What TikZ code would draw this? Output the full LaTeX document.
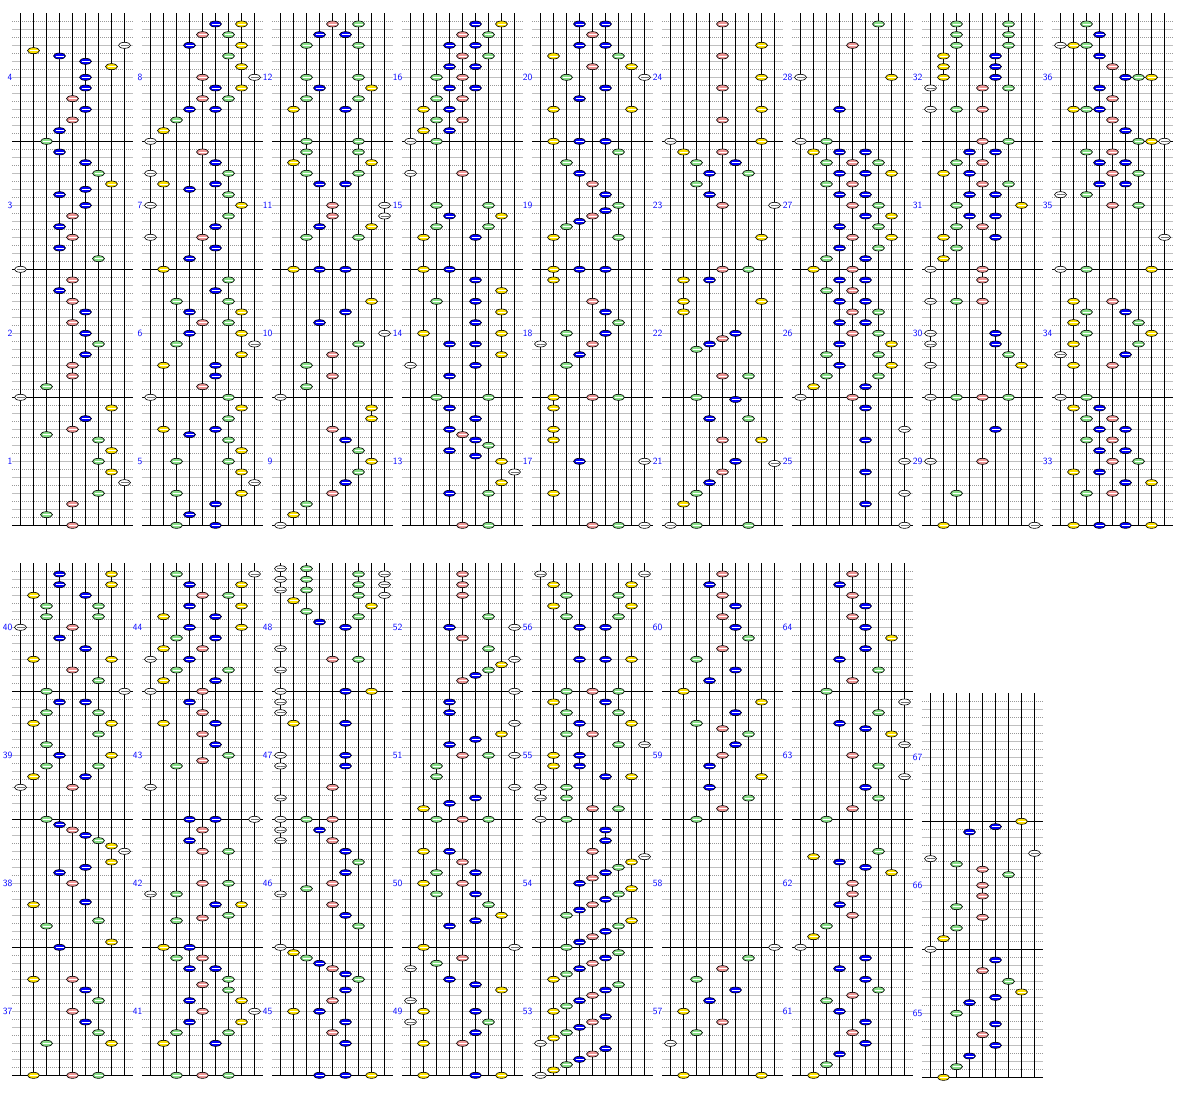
\documentclass[tikz,border=0pt]{standalone}
\usepackage{tikz}

\definecolor{keyw}{RGB}{255,255,255}
\definecolor{keyy}{RGB}{255,228,0}
\definecolor{keyg}{RGB}{136,224,136}
\definecolor{keyb}{RGB}{0,0,255}
\definecolor{keyr}{RGB}{240,150,150}
\definecolor{numblue}{RGB}{0,0,255}
\colorlet{lane0}{keyw}\colorlet{lane1}{keyy}\colorlet{lane2}{keyg}
\colorlet{lane3}{keyb}\colorlet{lane4}{keyr}\colorlet{lane5}{keyb}
\colorlet{lane6}{keyg}\colorlet{lane7}{keyy}\colorlet{lane8}{keyw}
\colorlet{shine0}{black!55}\colorlet{shine1}{white}\colorlet{shine2}{white}
\colorlet{shine3}{white}\colorlet{shine4}{white}\colorlet{shine5}{white}
\colorlet{shine6}{white}\colorlet{shine7}{white}\colorlet{shine8}{black!55}

\tikzset{
  beatline/.style={draw=black!25, line width=0.7pt},
  halfline/.style={draw=black!40, line width=0.7pt, dash pattern=on 1pt off 1pt},
  barline/.style={draw=black, line width=0.8pt},
  laneline/.style={draw=black, line width=0.8pt},
  notekey/.style={draw=black, line width=0.6pt},
  notebar/.style={line width=0.7pt},
  barnum/.style={text=numblue, font=\fontsize{9.5}{10}\sffamily, anchor=east, inner sep=0pt}
}

% #1 left x, #2 top y, #3 bars, #4 first bar
\newcommand\chartstaff[4]{%
  \pgfmathtruncatemacro\nk{16*#3-1}
  \foreach \gk in {1,...,\nk}{
    \ifodd\gk \draw[halfline] (#1+12,#2+8*\gk) -- (#1+133,#2+8*\gk);
    \else \draw[beatline] (#1+12,#2+8*\gk) -- (#1+133,#2+8*\gk); \fi
  }
  \foreach \m in {1,...,#3}{
    \draw[barline] (#1+12,#2+128*\m) -- (#1+133,#2+128*\m);
    \pgfmathtruncatemacro\bn{#4+#3-\m}
    \node[barnum] (bar\bn) at (#1+12.5,#2+128*\m-64) {\bn};
  }
  \foreach \la in {0,...,8}
    \draw[laneline] (#1+20.5+13*\la,#2) -- (#1+20.5+13*\la,#2+128*#3);
}

% #1 left x, #2 top y, #3 lane/tick (1/24 bar from the top)
\newcommand\chartkeys[3]{%
  \foreach \la/\tk in {#3}{
    \pgfmathsetmacro\nx{#1+20.5+13*\la}
    \pgfmathsetmacro\ny{#2+\tk*16/3}
    \filldraw[notekey,fill=lane\la] (\nx,\ny) ellipse [x radius=6,y radius=3];
    \draw[notebar,draw=shine\la] (\nx-4,\ny) -- (\nx+4,\ny);
  }}

\begin{document}
\begin{tikzpicture}[x=1pt,y=-1pt]
  \fill[white] (0,0) rectangle (1184,1100);
  \useasboundingbox (0,0) rectangle (1184,1100);
  \def\ta{13.33} \def\tb{563.33}

  \foreach \c in {0,...,8}{
    \pgfmathtruncatemacro\fb{4*\c+1}
    \chartstaff{130*\c}{\ta}{4}{\fb}
  }
  \foreach \c in {0,...,6}{
    \pgfmathtruncatemacro\fb{4*\c+37}
    \chartstaff{130*\c}{\tb}{4}{\fb}
  }
  \chartstaff{910}{693.33}{3}{65}

  % 1-4
  \chartkeys{0}{\ta}{1/7,8/6,3/8,5/9,7/10,5/12,5/14,4/16,5/18,4/20,3/22,2/24,3/26,5/28,6/30,7/32,5/33,3/34,5/36,4/38,3/40,4/42,3/44,6/46,0/48,4/50,3/52,4/54,5/56,4/58,5/60,6/62,5/64,4/66,4/68,2/70,0/72,7/74,5/76,4/78,2/79,6/80,7/82,6/84,7/86,8/88,6/90,4/92,2/94,4/96}
  % 5-8
  \chartkeys{130}{\ta}{5/2,7/2,4/4,6/4,3/6,7/6,6/8,7/10,4/12,8/12,5/14,7/14,4/16,6/16,3/18,5/18,2/20,1/22,0/24,4/26,5/28,0/30,6/30,1/32,5/32,3/33,6/34,0/36,7/36,6/38,5/40,0/42,4/42,5/44,3/46,1/48,6/50,5/52,2/54,6/54,3/56,7/56,4/58,6/58,3/60,7/60,2/62,8/62,7/64,1/66,5/66,5/68,4/70,0/72,6/72,7/74,6/76,1/78,5/78,3/79,6/80,7/82,2/84,6/84,7/86,8/88,2/90,7/90,5/92,3/94,2/96,5/96}
  % 9-12
  \chartkeys{260}{\ta}{4/2,6/2,3/4,5/4,2/6,6/6,2/12,6/12,3/14,7/14,2/16,6/16,1/18,5/18,2/24,6/24,2/26,6/26,1/28,7/28,2/30,6/30,3/32,5/32,4/36,8/36,4/38,8/38,3/40,7/40,2/42,6/42,1/48,3/48,5/48,7/54,5/56,3/58,8/60,6/62,4/64,2/66,4/68,2/70,0/72,7/74,7/76,4/78,5/80,6/82,7/84,6/86,5/88,4/90,2/92,1/94,0/96}
  % 13-16
  \chartkeys{390}{\ta}{5/2,7/2,4/4,6/4,3/6,5/6,4/8,6/8,3/10,5/10,2/12,4/12,3/14,5/14,2/16,4/16,1/18,3/18,2/20,4/20,1/22,3/22,0/24,2/24,0/30,4/30,2/36,6/36,3/38,7/38,2/40,6/40,1/42,5/42,1/48,3/48,5/50,7/52,2/54,5/54,7/56,5/58,1/60,7/60,3/62,5/62,7/64,0/66,5/66,3/68,2/72,6/72,3/74,5/76,3/78,4/79,5/80,6/81,3/82,5/83,7/84,8/86,7/88,3/90,6/90,4/96,6/96}
  % 17-20
  \chartkeys{520}{\ta}{3/2,5/2,4/4,3/6,5/6,1/8,6/8,4/10,7/10,2/12,8/12,5/14,3/16,1/18,7/18,1/24,3/24,5/24,6/26,2/28,3/30,4/32,5/34,6/36,5/37,4/38,3/39,2/40,1/42,6/42,1/48,3/48,5/48,1/50,4/54,5/56,6/58,2/60,5/60,0/62,4/62,3/64,2/66,1/72,4/72,6/72,1/74,1/78,1/80,3/84,8/84,1/90,4/96,6/96,8/96}
  % 21-24
  \chartkeys{650}{\ta}{4/2,7/6,4/8,7/12,4/14,7/18,4/20,0/24,7/24,1/26,4/26,2/28,5/28,3/30,6/30,2/32,3/34,4/36,8/36,7/42,4/48,6/48,1/50,3/50,1/54,7/54,1/56,5/60,4/61,3/62,2/63,4/68,6/68,2/72,5/72.4,3/76,6/76,4/80,7/80,5/84,8/84.4,4/86,3/88,2/90,1/92,0/96,2/96,6/96}
  % 25-28
  \chartkeys{780}{\ta}{6/2,4/6,0/12,7/12,3/18,0/24,2/24,1/26,3/26,5/26,2/28,4/28,6/28,3/30,5/30,7/30,2/32,4/32,3/34,5/34,4/36,6/36,5/38,7/38,3/40,6/40,4/42,7/42,3/44,6/44,2/46,5/46,1/48,4/48,3/50,5/50,2/52,4/52,3/54,5/54,4/56,6/56,3/58,5/58,4/60,6/60,3/62,7/62,2/64,6/64,3/66,7/66,2/68,6/68,1/70,5/70,0/72,4/72,5/74,8/78,5/80,8/84,5/86,8/90,5/92,8/96}
  % 29-32
  \chartkeys{910}{\ta}{2/2,6/2,2/4,6/4,2/6,6/6,1/8,5/8,1/10,5/10,1/12,5/12,0/14,4/14,6/14,0/18,2/18,4/18,4/24,6/24,3/26,5/26,2/28,4/28,1/30,3/30,4/32,6/32,3/34,5/34,2/36,7/36,3/38,5/38,2/40,4/40,1/42,5/42,2/44,1/46,0/48,4/48,4/50,0/54,2/54,4/54,0/60,5/60,0/62,5/62,6/64,0/66,7/66,0/72,2/72,4/72,6/72,5/78,0/84,4/84,2/90,1/96,8/96}
  % 33-36
  \chartkeys{1040}{\ta}{2/2,3/4,0/6,1/6,2/6,3/8,4/10,5/12,6/12,7/12,3/14,4/16,1/18,2/18,3/18,4/20,5/22,6/24,7/24,8/24,2/26,4/26,3/28,5/28,4/30,6/30,3/32,5/32,0/34,2/34,4/36,6/36,8/42,0/48,2/48,7/48,1/54,4/54,2/56,5/56,1/58,6/58,2/60,7/60,1/62,6/62,0/64,5/64,1/66,4/66,0/72,2/72,1/74,3/74,2/76,4/76,3/78,5/78,2/80,4/80,3/82,5/82,4/84,6/84,1/86,3/86,5/88,7/88,2/90,4/90,1/96,3/96,5/96,7/96}

  % 37-40
  \chartkeys{0}{\tb}{3/2,7/2,3/4,7/4,1/6,5/6,2/8,6/8,2/10,6/10,0/12,4/12,3/14,5/16,1/18,7/18,4/20,6/22,2/24,8/24,3/26,5/26,2/28,6/28,1/30,7/30,6/32,2/34,3/36,7/36,2/38,6/38,1/40,5/40,0/42,4/42,2/48,3/49,4/50,5/51,6/52,7/53,8/54,7/56,5/57,3/58,4/60,5/63.5,1/64,6/67,2/68,7/71,3/72,1/78,4/78,5/80,6/82,4/84,5/86,6/88,2/90,7/90,1/96,4/96,6/96}
  % 41-44
  \chartkeys{130}{\tb}{2/2,8/2,3/4,7/4,4/6,6/6,3/8,7/8,1/10,5/10,3/12,7/12,2/14,5/14,1/16,4/16,0/18,3/18,2/20,6/20,1/22,5/22,0/24,4/24,3/26,4/28,1/30,5/30,4/32,5/34,6/36,4/37,2/38,0/42,3/48,5/48,8/48,4/50,3/52,4/54,6/54,4/60,6/60,0/62,2/62,5/64,7/64,6/66,4/66.5,2/67,1/72,3/72,2/74,4/74,3/76,5/76,6/78,4/79,6/80,3/82,7/82,4/84,8/84,3/86,7/86,2/88,6/88,1/90,5/90,2/96,4/96,6/96}
  % 45-48
  \chartkeys{260}{\tb}{0/1,2/1,0/3,2/3,0/5,2/5,6/2,8/2,6/4,8/4,6/6,8/6,1/7,7/8,2/9,6/10,3/11,5/12,0/16,4/18,6/18,0/20,0/24,5/24,7/24,0/26,0/28,1/30,5/30,0/36,5/36,0/38,5/38,4/42,0/44,0/48,2/48,4/48,0/50,3/50,0/52,4/52,5/54,6/56,5/58,4/60,2/61,0/62,4/64,5/66,6/68,0/72,1/73,2/74,3/75,4/76,5/77,6/78,5/80,4/82,1/84,3/84,5/86,4/88,5/90,3/96,5/96,7/96}
  % 49-52
  \chartkeys{390}{\tb}{4/2,4/4,4/6,6/10,3/12,8/12,4/14,6/16,8/18,7/19,6/20,5/21,4/22,8/24,3/26,3/28,8/30,7/32,5/33,3/34,4/36,6/36,8/36,2/38,2/40,8/42,5/44,3/45,1/46,2/48,4/48,6/48,1/54,3/54,4/56,2/58,5/58,1/60,4/60,2/62,5/62,6/64,7/66,5/67,3/68,1/72,8/72,4/74,2/75,0/76,3/78,5/79,7/80,0/82,1/84,5/84,0/86,6/86,5/88,1/90,4/90,1/96,5/96,7/96}
  % 53-56
  \chartkeys{520}{\tb}{0/2,8/2,1/4,7/4,2/6,6/6,1/8,7/8,2/10,6/10,3/12,5/12,3/18,5/18,7/18,2/24,4/24,6/24,1/26,5/26,2/28,6/28,3/30,7/30,2/32,4/32,6/34,8/34,1/36,3/36,1/38,3/38,5/40,7/40,0/42,2/42,0/44,2/44,4/46,6/46,0/48,2/48,5/50,5/52,4/54,8/55,7/56,6/57,5/58,4/59,3/60,7/61,6/62,5/63,4/64,3/65,2/66,7/67,6/68,5/69,4/70,3/71,2/72,6/73,5/74,4/75,3/76,2/77,1/78,6/79,5/80,4/81,3/82,2/83,1/84,5/85,4/86,3/87,2/88,1/89,0/90,5/91,4/92,3/93,2/94,1/95,0/96}
  % 57-60
  \chartkeys{650}{\tb}{4/2,3/4,4/6,5/8,4/10,5/12,6/14,4/16,2/18,5/20,3/22,1/24,7/26,5/28,2/30,4/31,6/32,5/34,4/36,3/38,7/40,3/42,6/44,4/46,2/48,8/72,6/74,4/76,2/78,5/80,3/82,1/84,4/86,2/88,0/90,1/96,7/96}
  % 61-64
  \chartkeys{780}{\tb}{4/2,3/4,4/6,5/8,4/10,5/12,7/14,5/16,3/18,6/20,4/22,2/24,8/26,6/28,3/30,5/31,7/32,8/34,4/36,6/38,8/40,5/42,6/44,4/46,2/48,6/54,1/55,3/56,5/57,7/58,4/60,4/62,3/64,4/66,2/68,1/70,0/72,5/74,3/76,5/78,6/80,4/81,2/82,3/84,5/86,4/88,5/90,3/92,2/94,1/96}
  % 65-67
  \chartkeys{910}{693.33}{7/24,5/25,3/26,8/30,0/31,2/32,4/33,6/34,4/36,4/38,2/40,4/42,2/44,1/46,0/48,5/50,4/52,6/54,7/56,5/57,3/58,2/60,5/62,4/64,5/66,3/68,2/70,1/72}
\end{tikzpicture}
\end{document}
